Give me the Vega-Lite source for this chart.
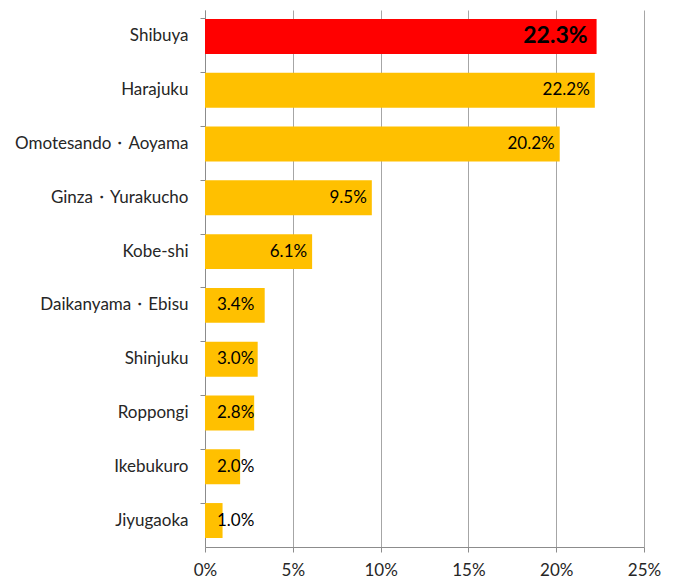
{
  "$schema": "https://vega.github.io/schema/vega-lite/v6.json",
  "autosize": "none",
  "padding": {"left": 205, "top": 10, "right": 35, "bottom": 40},
  "width": 439,
  "height": 537,
  "background": "white",
  "config": {
    "view": {"stroke": null},
    "font": "Lato"
  },
  "data": {
    "values": [
      {"area": "Shibuya", "share": 0.223, "top": true},
      {"area": "Harajuku", "share": 0.222, "top": false},
      {"area": "Omotesando・Aoyama", "share": 0.202, "top": false},
      {"area": "Ginza・Yurakucho", "share": 0.095, "top": false},
      {"area": "Kobe-shi", "share": 0.061, "top": false},
      {"area": "Daikanyama・Ebisu", "share": 0.034, "top": false},
      {"area": "Shinjuku", "share": 0.030, "top": false},
      {"area": "Roppongi", "share": 0.028, "top": false},
      {"area": "Ikebukuro", "share": 0.020, "top": false},
      {"area": "Jiyugaoka", "share": 0.010, "top": false}
    ]
  },
  "encoding": {
    "y": {
      "field": "area",
      "type": "nominal",
      "sort": null,
      "scale": {"paddingInner": 0.35, "paddingOuter": 0.167},
      "axis": {
        "title": null,
        "bandPosition": 0,
        "domainColor": "#8c8c8c",
        "tickColor": "#8c8c8c",
        "tickSize": 5,
        "labelFontSize": 17,
        "labelColor": "#262626",
        "labelPadding": 12,
        "labelFont": "Lato",
        "labelLimit": 300,
        "grid": false
      }
    }
  },
  "layer": [
    {
      "mark": {"type": "bar"},
      "encoding": {
        "x": {
          "field": "share",
          "type": "quantitative",
          "scale": {"domain": [0, 0.25], "nice": false},
          "axis": {
            "title": null,
            "values": [0, 0.05, 0.1, 0.15, 0.2, 0.25],
            "format": ".0%",
            "grid": true,
            "gridColor": "#a6a6a6",
            "gridWidth": 1,
            "domainColor": "#8c8c8c",
            "tickColor": "#8c8c8c",
            "tickSize": 5,
            "labelFontSize": 17,
            "labelColor": "#262626",
            "labelPadding": 10,
            "labelFlush": false
          }
        },
        "color": {
          "field": "top",
          "type": "nominal",
          "scale": {"domain": [true, false], "range": ["#ff0000", "#ffc000"]},
          "legend": null
        }
      }
    },
    {
      "transform": [{"filter": "datum.top"}],
      "mark": {"type": "text", "align": "right", "baseline": "middle", "dx": -9, "fontSize": 23, "fontWeight": "bold", "color": "#000000"},
      "encoding": {
        "x": {"field": "share", "type": "quantitative"},
        "text": {"field": "share", "type": "quantitative", "format": ".1%"}
      }
    },
    {
      "transform": [{"filter": "!datum.top && datum.share >= 0.04"}],
      "mark": {"type": "text", "align": "right", "baseline": "middle", "dx": -5, "fontSize": 17, "color": "#000000"},
      "encoding": {
        "x": {"field": "share", "type": "quantitative"},
        "text": {"field": "share", "type": "quantitative", "format": ".1%"}
      }
    },
    {
      "transform": [{"filter": "!datum.top && datum.share < 0.04"}],
      "mark": {"type": "text", "align": "left", "baseline": "middle", "dx": 12, "fontSize": 17, "color": "#000000"},
      "encoding": {
        "x": {"datum": 0, "type": "quantitative"},
        "text": {"field": "share", "type": "quantitative", "format": ".1%"}
      }
    }
  ]
}
